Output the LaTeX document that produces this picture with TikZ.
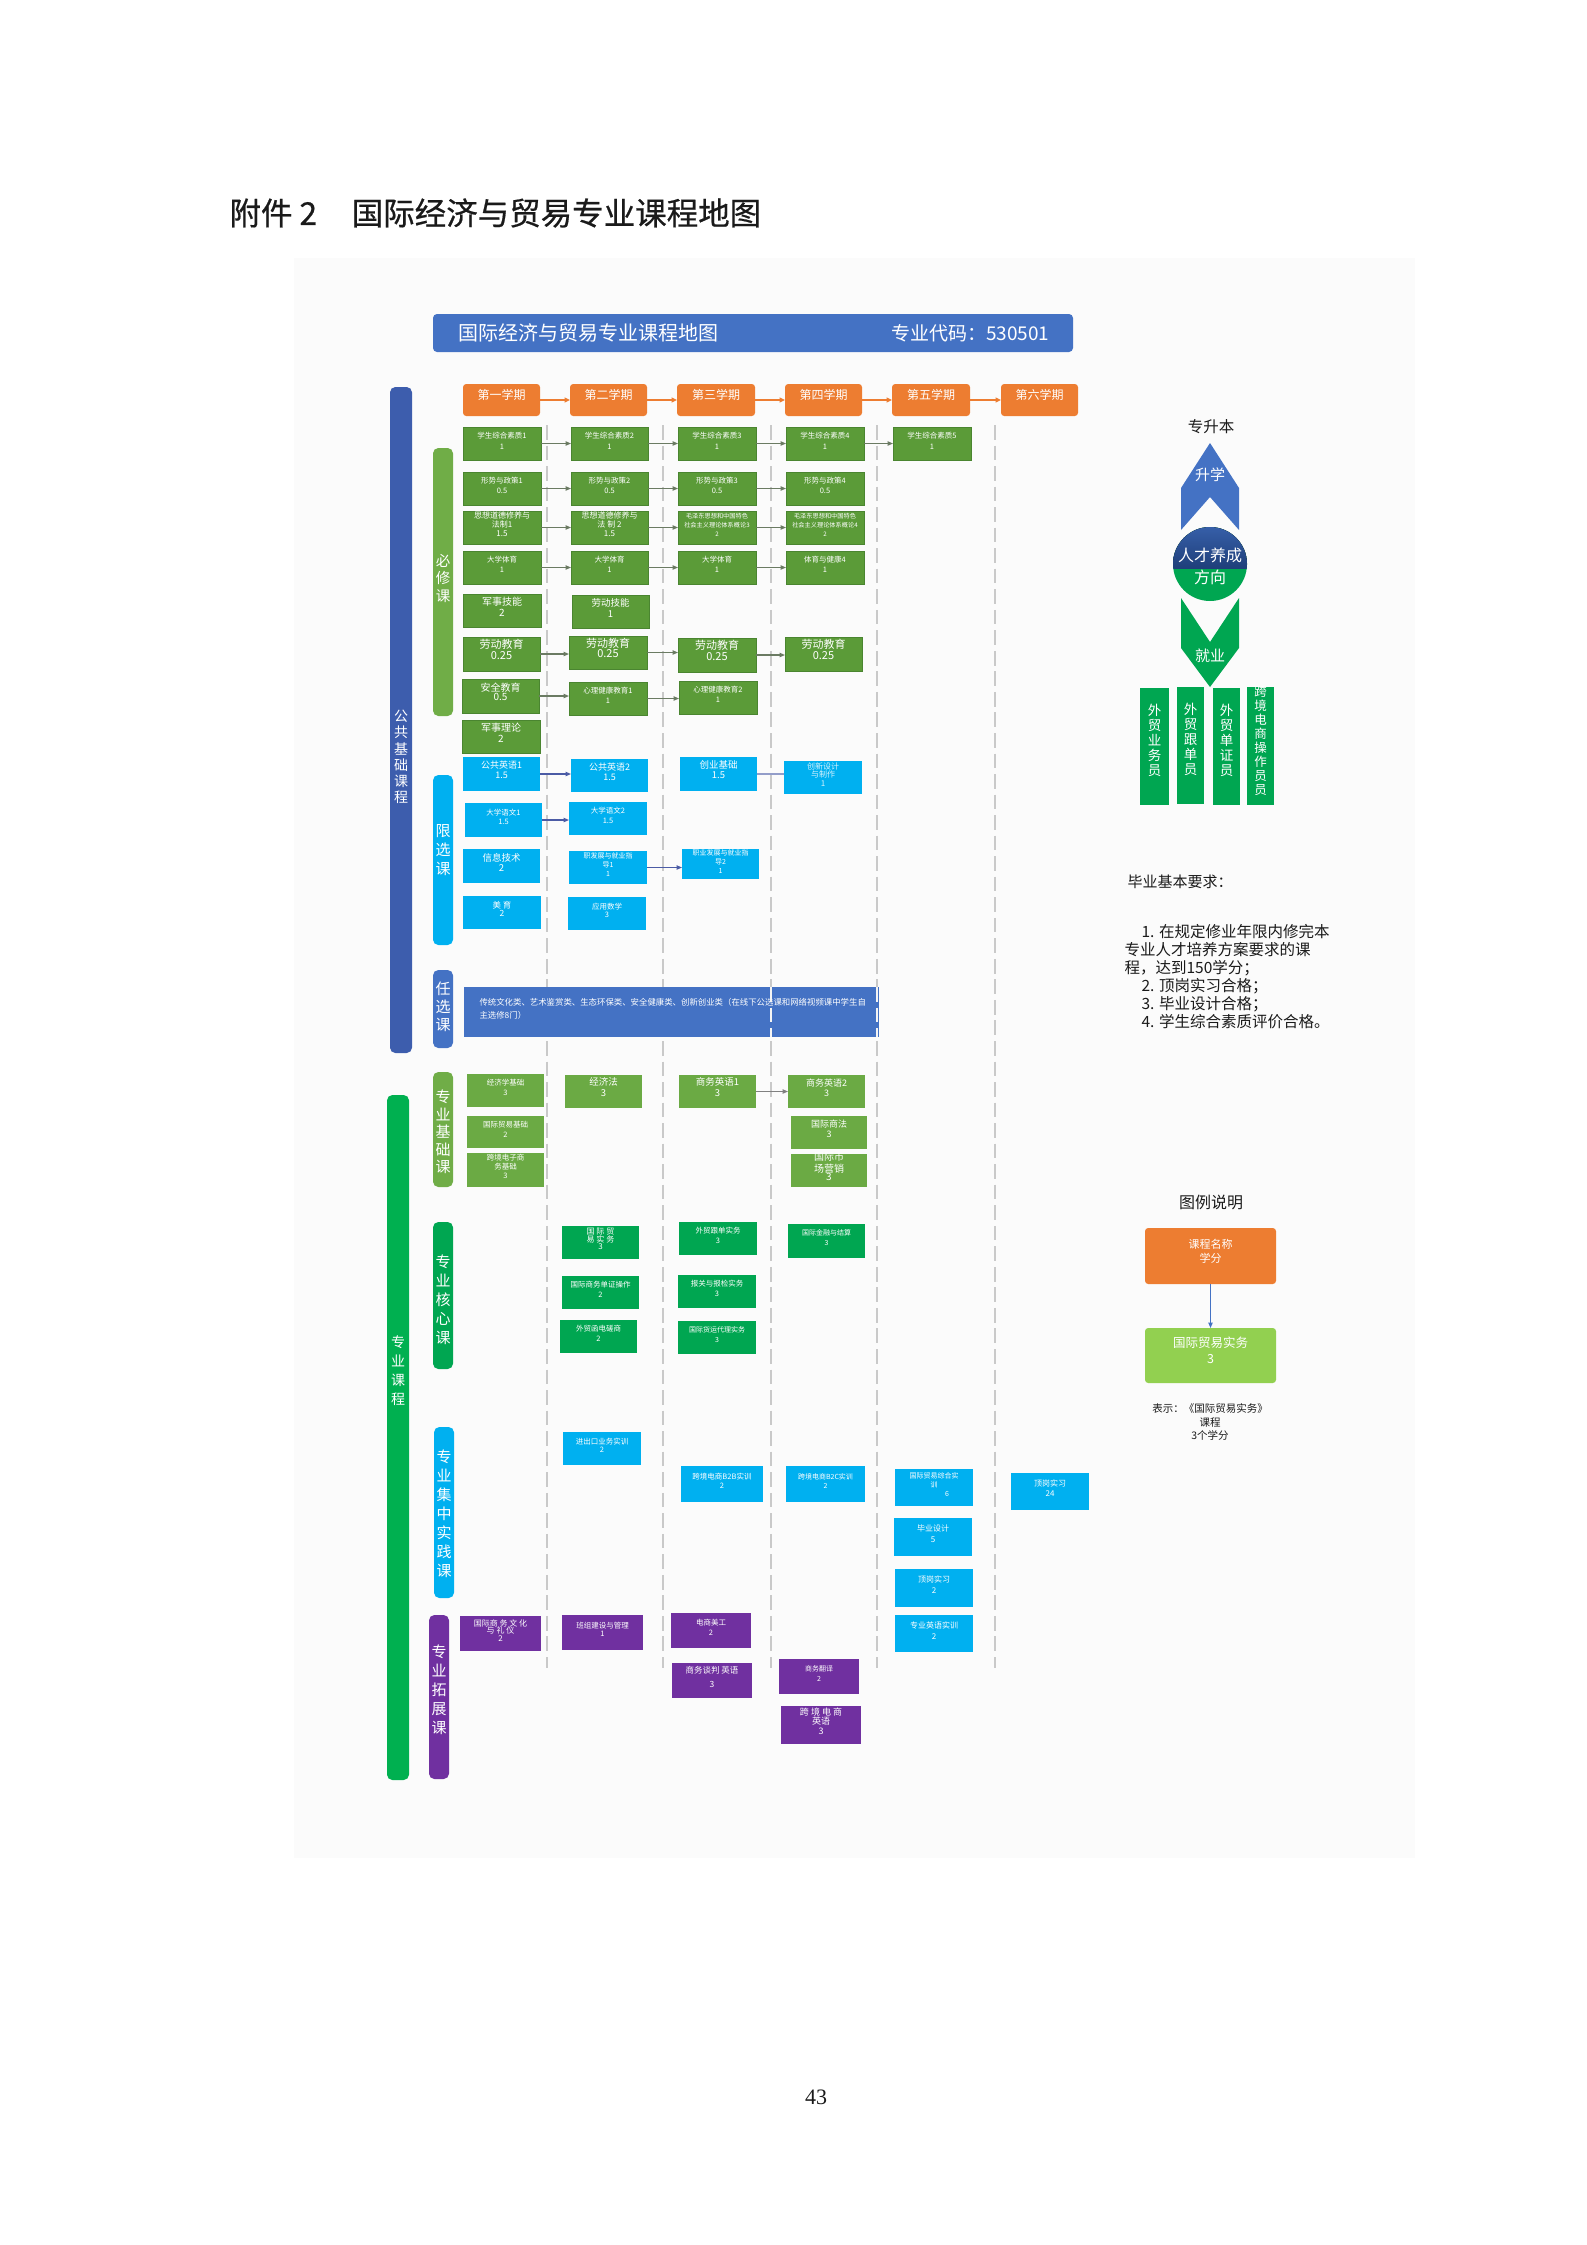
\documentclass[tikz,border=0pt]{standalone}
\usepackage{fontspec}
\setmainfont{Noto Sans CJK SC}
\newfontfamily\serifnum{Liberation Serif}
\newfontfamily\titlefont[FakeBold=0.6]{Noto Sans CJK SC}
\usetikzlibrary{arrows.meta,fit}
\newdimen\pxu \pxu=0.375pt
\newcommand\fs[2]{\fontsize{#1\pxu}{#2\pxu}\selectfont}
\newcommand\bx[7]{\node[#1, fit={(#3,#4)(#5,#6)}] (#2) {#7};}
\definecolor{gB}{HTML}{5B9B38}
\definecolor{gBd}{HTML}{4A8530}
\definecolor{gBar}{HTML}{70AD47}
\definecolor{pB}{HTML}{6BAA44}
\definecolor{kG}{HTML}{00A651}
\definecolor{mBar}{HTML}{00B050}
\definecolor{cy}{HTML}{00B0F0}
\definecolor{pu}{HTML}{7030A0}
\definecolor{pubB}{HTML}{3D5DAD}
\definecolor{hdr}{HTML}{4472C4}
\definecolor{org}{HTML}{ED7D31}
\definecolor{lgG}{HTML}{92D050}
\definecolor{arrG}{HTML}{6B7B63}
\definecolor{arrB}{HTML}{4B5BA5}
\definecolor{dsh}{HTML}{C9C9C9}
\definecolor{panel}{HTML}{FBFBFB}
\definecolor{cTop}{HTML}{3A64B0}
\definecolor{cBot}{HTML}{1F3F7A}
\definecolor{txt}{HTML}{1A1A1A}
\tikzset{
  base/.style={inner sep=0pt, outer sep=0pt, text=white, align=center},
  gb/.style={base, fill=gB, draw=gBd, line width=0.3pt},
  pb/.style={base, fill=pB},
  kb/.style={base, fill=kG},
  cb/.style={base, fill=cy},
  ub/.style={base, fill=pu},
  sem/.style={base, fill=org, rounded corners=1.2pt, font=\fs{12}{14}},
  bar/.style={inner sep=0pt, outer sep=0pt, rounded corners=2pt},
  vlab/.style={text=white, align=center, inner sep=0pt},
  ga/.style={draw=arrG, line width=0.45pt, -{Triangle[length=2pt,width=1.6pt]}},
  ba/.style={draw=arrB, line width=0.45pt, -{Triangle[length=2pt,width=1.6pt]}},
  oa/.style={draw=org, line width=0.6pt, -{Triangle[length=2pt,width=1.8pt]}},
  dl/.style={draw=dsh, line width=0.5pt, dash pattern=on 5.5pt off 2.2pt},
  job/.style={base, fill=kG, font=\fs{13.5}{15}},
}
\begin{document}
\begin{tikzpicture}[x=0.375pt,y=-0.375pt]
\useasboundingbox (0,0) rectangle (1587,2245);
\fill[white] (0,0) rectangle (1587,2245);
\fill[panel] (294,258) rectangle (1415,1858);

% title
\node[anchor=west, inner sep=0pt, font=\titlefont\fs{31.5}{34}, text=txt] (title) at (229,213) {附件 2\hspace{1.1em}国际经济与贸易专业课程地图};

% header
\node[bar, fill=hdr, rounded corners=1.5pt, fit={(433,314)(1073,352)}] (hdr) {};
\node[anchor=west, inner sep=0pt, text=white, font=\fs{20}{22}] (hdrL) at (458,333) {国际经济与贸易专业课程地图};
\node[anchor=east, inner sep=0pt, text=white, font=\fs{19}{22}] (hdrR) at (1050,333) {专业代码：530501};

% dashed separators
\foreach \xx in {547,663,771,877,995} \draw[dl] (\xx,425) -- (\xx,1668);

% left bars
\node[bar, fill=pubB, fit={(390,387)(412,1053)}] (pubbar) {};
\node[vlab, font=\fs{14}{16.3}] (publbl) at (401,757) {公\\共\\基\\础\\课\\程};
\node[bar, fill=mBar, fit={(387,1095)(409,1780)}] (majbar) {};
\node[vlab, font=\fs{14}{19}] (majlbl) at (398,1371) {专\\业\\课\\程};

\node[bar, fill=gBar, fit={(433,448)(453,716)}] (bxbar) {};
\node[vlab, font=\fs{14.5}{17.5}] (bxlbl) at (443,578) {必\\修\\课};
\node[bar, fill=cy, fit={(433,775)(453,945)}] (xxbar) {};
\node[vlab, font=\fs{15}{19}] (xxlbl) at (443,850) {限\\选\\课};
\node[bar, fill=hdr, fit={(433,970)(453,1048)}] (rxbar) {};
\node[vlab, font=\fs{15}{18}] (rxlbl) at (443,1007) {任\\选\\课};
\node[bar, fill=gBar, fit={(433,1072)(453,1187)}] (jcbar) {};
\node[vlab, font=\fs{15}{17.5}] (jclbl) at (443,1132) {专\\业\\基\\础\\课};
\node[bar, fill=kG, fit={(433,1222)(453,1369)}] (hxbar) {};
\node[vlab, font=\fs{15}{19}] (hxlbl) at (443,1300) {专\\业\\核\\心\\课};
\node[bar, fill=cy, fit={(434,1427)(454,1598)}] (sjbar) {};
\node[vlab, font=\fs{15}{19}] (sjlbl) at (444,1514) {专\\业\\集\\中\\实\\践\\课};
\node[bar, fill=pu, fit={(429,1615)(449,1779)}] (tzbar) {};
\node[vlab, font=\fs{15}{19}] (tzlbl) at (439,1690) {专\\业\\拓\\展\\课};

% semesters
\bx{sem}{s1}{463}{384}{540}{416}{第一学期}
\bx{sem}{s2}{570}{384}{647}{416}{第二学期}
\bx{sem}{s3}{677}{384}{755}{416}{第三学期}
\bx{sem}{s4}{785}{384}{862}{416}{第四学期}
\bx{sem}{s5}{892}{384}{970}{416}{第五学期}
\bx{sem}{s6}{1001}{384}{1078}{416}{第六学期}
\draw[oa] (s1.east) -- (s2.west);
\draw[oa] (s2.east) -- (s3.west);
\draw[oa] (s3.east) -- (s4.west);
\draw[oa] (s4.east) -- (s5.west);
\draw[oa] (s5.east) -- (s6.west);

% 必修课
\bx{gb,font=\fs{7.5}{11}}{a11}{463}{427}{541}{460}{学生综合素质1\\1}
\bx{gb,font=\fs{7.5}{11}}{a12}{571}{427}{648}{460}{学生综合素质2\\1}
\bx{gb,font=\fs{7.5}{11}}{a13}{678}{427}{756}{460}{学生综合素质3\\1}
\bx{gb,font=\fs{7.5}{11}}{a14}{786}{427}{864}{460}{学生综合素质4\\1}
\bx{gb,font=\fs{7.5}{11}}{a15}{893}{427}{971}{460}{学生综合素质5\\1}
\bx{gb,font=\fs{7.5}{10.5}}{a21}{463}{472}{541}{505}{形势与政策1\\0.5}
\bx{gb,font=\fs{7.5}{10.5}}{a22}{571}{472}{648}{505}{形势与政策2\\0.5}
\bx{gb,font=\fs{7.5}{10.5}}{a23}{678}{472}{756}{505}{形势与政策3\\0.5}
\bx{gb,font=\fs{7.5}{10.5}}{a24}{786}{472}{864}{505}{形势与政策4\\0.5}
\bx{gb,font=\fs{8}{9}}{a31}{463}{511}{541}{544}{思想道德修养与\\法制1\\1.5}
\bx{gb,font=\fs{8}{9}}{a32}{571}{511}{648}{544}{思想道德修养与\\法 制 2\\1.5}
\bx{gb,font=\fs{6.2}{9}}{a33}{678}{511}{756}{544}{毛泽东思想和中国特色\\社会主义理论体系概论3\\2}
\bx{gb,font=\fs{6.2}{9}}{a34}{786}{511}{864}{544}{毛泽东思想和中国特色\\社会主义理论体系概论4\\2}
\bx{gb,font=\fs{7.5}{10}}{a41}{463}{551}{541}{584}{大学体育\\1}
\bx{gb,font=\fs{7.5}{10}}{a42}{571}{551}{648}{584}{大学体育\\1}
\bx{gb,font=\fs{7.5}{10}}{a43}{678}{551}{756}{584}{大学体育\\1}
\bx{gb,font=\fs{7.5}{10}}{a44}{786}{551}{864}{584}{体育与健康4\\1}
\bx{gb,font=\fs{10}{11}}{a51}{463}{594}{541}{627}{军事技能\\2}
\bx{gb,font=\fs{9.5}{11}}{a52}{572}{595}{649}{628}{劳动技能\\1}
\bx{gb,font=\fs{11}{10.5}, align=left}{a61}{463}{637}{540}{671}{劳动教育\\0.25}
\bx{gb,font=\fs{11}{10.5}, align=left}{a62}{569}{636}{647}{669}{劳动教育\\0.25}
\bx{gb,font=\fs{11}{10.5}, align=left}{a63}{678}{638}{756}{672}{劳动教育\\0.25}
\bx{gb,font=\fs{11}{10.5}, align=left}{a64}{785}{637}{862}{671}{劳动教育\\0.25}
\bx{gb,font=\fs{10}{9}}{a71}{462}{679}{539}{713}{安全教育\\0.5}
\bx{gb,font=\fs{7.5}{10.5}}{a72}{569}{682}{647}{715}{心理健康教育1\\1}
\bx{gb,font=\fs{7.5}{10.5}}{a73}{679}{681}{757}{714}{心理健康教育2\\1}
\bx{gb,font=\fs{10}{11}}{a81}{462}{720}{540}{753}{军事理论\\2}

\foreach \r/\n in {1/5,2/4,3/4,4/4,6/4,7/3}{
  \foreach \c [evaluate=\c as \d using int(\c+1)] in {1,...,\n}{
    \ifnum\c<\n \draw[ga] (a\r\c.east) -- (a\r\c.east -| a\r\d.west);\fi
  }
}

% 限选课
\bx{cb,font=\fs{9}{10}}{b11}{463}{757}{540}{791}{公共英语1\\1.5}
\bx{cb,font=\fs{9}{10}}{b12}{571}{759}{648}{792}{公共英语2\\1.5}
\bx{cb,font=\fs{9.5}{10}}{b13}{680}{757}{757}{791}{创业基础\\1.5}
\bx{cb,font=\fs{8}{8.5},text=white!85!cy}{b14}{784}{761}{862}{794}{创新设计\\与制作\\1}
\bx{cb,font=\fs{7.5}{9.5}}{b21}{465}{803}{542}{837}{大学语文1\\1.5}
\bx{cb,font=\fs{7.5}{9.5}}{b22}{569}{802}{647}{835}{大学语文2\\1.5}
\bx{cb,font=\fs{9.5}{10}}{b31}{463}{849}{540}{883}{信息技术\\2}
\bx{cb,font=\fs{7}{9}}{b32}{569}{851}{647}{884}{职发展与就业指\\导1\\1}
\bx{cb,font=\fs{7}{9}}{b33}{682}{849}{759}{879}{职业发展与就业指\\导2\\1}
\bx{cb,font=\fs{8.5}{8}}{b41}{463}{896}{541}{929}{美 育\\2}
\bx{cb,font=\fs{7.5}{8}}{b42}{568}{897}{646}{930}{应用数学\\3}
\draw[ba] (b11.east) -- (b11.east -| b12.west);
\draw[ba] (b21.east) -- (b21.east -| b22.west);
\draw[ba] (b32.east) -- (b32.east -| b33.west);
\draw[draw=arrB!60, line width=0.45pt] (b13.east) -- (b13.east -| b14.west);

% 任选课
\node[base, fill=hdr, fit={(464,987)(879,1037)}] (rx) {};
\node[anchor=north west, inner sep=0pt, text=white, align=left, font=\fs{8.4}{13}] (rxt) at (479,998) {传统文化类、艺术鉴赏类、生态环保类、安全健康类、创新创业类（在线下公选课和网络视频课中学生自\\主选修8门）};
\draw[dl, draw=white!80!dsh] (771,987) -- (771,1037);
\draw[dl, draw=white!80!dsh] (877,987) -- (877,1037);

% 专业基础课
\bx{pb,font=\fs{7.5}{10}}{c11}{467}{1074}{544}{1107}{经济学基础\\3}
\bx{pb,font=\fs{7.5}{10}}{c21}{467}{1116}{544}{1148}{国际贸易基础\\2}
\bx{pb,font=\fs{7.5}{9}}{c31}{467}{1153}{544}{1187}{跨境电子商\\务基础\\3}
\bx{pb,font=\fs{9.5}{11}}{c12}{565}{1075}{642}{1108}{经济法\\3}
\bx{pb,font=\fs{9.5}{11}}{c13}{679}{1075}{756}{1108}{商务英语1\\3}
\bx{pb,font=\fs{9}{10}}{c14}{788}{1075}{865}{1108}{商务英语2\\3}
\bx{pb,font=\fs{9}{9.5}}{c24}{791}{1116}{867}{1149}{国际商法\\3}
\bx{pb,font=\fs{10}{8.5}}{c34}{791}{1154}{867}{1187}{国际市\\场营销\\3}
\draw[ga, draw=gray] (c13.east) -- (c13.east -| c14.west);

% 专业核心课
\bx{kb,font=\fs{8}{7.5}}{d12}{562}{1226}{639}{1259}{国 际 贸\\易 实 务\\3}
\bx{kb,font=\fs{7.5}{10}}{d22}{562}{1276}{639}{1309}{国际商务单证操作\\2}
\bx{kb,font=\fs{7.5}{10}}{d32}{560}{1320}{637}{1353}{外贸函电磋商\\2}
\bx{kb,font=\fs{7.5}{10}}{d13}{679}{1222}{757}{1255}{外贸跟单实务\\3}
\bx{kb,font=\fs{7.5}{10}}{d23}{678}{1275}{756}{1308}{报关与报检实务\\3}
\bx{kb,font=\fs{7}{10}}{d33}{678}{1321}{756}{1354}{国际货运代理实务\\3}
\bx{kb,font=\fs{7}{10}}{d14}{788}{1224}{865}{1258}{国际金融与结算\\3}

% 专业集中实践课
\bx{cb,font=\fs{7.5}{8.5}}{e12}{563}{1432}{641}{1465}{进出口业务实训\\2}
\bx{cb,font=\fs{7.5}{8.5}}{e13}{681}{1466}{763}{1502}{跨境电商B2B实训\\2}
\bx{cb,font=\fs{7}{8.5}}{e14}{786}{1466}{865}{1502}{跨境电商B2C实训\\2}
\bx{cb,font=\fs{7}{9},align=left}{e15}{895}{1469}{973}{1506}{国际贸易综合实\\训\\\hspace*{26\pxu}6}
\bx{cb,font=\fs{8}{11}}{e25}{894}{1518}{972}{1556}{毕业设计\\5}
\bx{cb,font=\fs{8}{11}}{e35}{895}{1569}{973}{1607}{顶岗实习\\2}
\bx{cb,font=\fs{8}{11}}{e45}{895}{1615}{973}{1652}{专业英语实训\\2}
\bx{cb,font=\fs{8}{10}}{e16}{1011}{1473}{1089}{1510}{顶岗实习\\24}

% 专业拓展课
\bx{ub,font=\fs{8}{7.5}}{f11}{460}{1616}{541}{1651}{国际商 务 文 化\\与 礼 仪\\2}
\bx{ub,font=\fs{7.5}{7.5}}{f12}{562}{1615}{643}{1650}{班组建设与管理\\1}
\bx{ub,font=\fs{7.5}{10}}{f13}{671}{1613}{751}{1648}{电商美工\\2}
\bx{ub,font=\fs{8.5}{14}}{f23}{672}{1663}{752}{1698}{商务谈判 英语\\3}
\bx{ub,font=\fs{7}{10}}{f24}{779}{1659}{859}{1694}{商务翻译\\2}
\bx{ub,font=\fs{9}{9.5}}{f34}{781}{1706}{861}{1744}{跨 境 电 商\\英语\\3}

% right: direction diagram
\node[font=\fs{15.5}{17}, text=txt, inner sep=0pt] (zsb) at (1211,427) {专升本};
\fill[hdr] (1210,443) -- (1239,488) -- (1239,530) -- (1210,497) -- (1181,530) -- (1181,488) -- cycle;
\node[text=white, font=\fs{15}{17}, inner sep=0pt] (sx) at (1210,475) {升学};
\fill[kG] (1181,598) -- (1210,642) -- (1239,598) -- (1239,648) -- (1210,687) -- (1181,648) -- cycle;
\node[text=white, font=\fs{15}{17}, inner sep=0pt] (jy) at (1210,656) {就业};
\fill[kG] (1210,564) circle[radius=13.875pt];
\begin{scope}
  \clip (1210,564) circle[radius=13.875pt];
  \fill[top color=cTop, bottom color=cBot] (1170,520) rectangle (1250,568);
\end{scope}
\node[text=white, font=\fs{16}{18}, inner sep=0pt] (rc) at (1210,555) {人才养成};
\node[text=white, font=\fs{16}{18}, inner sep=0pt] (fx) at (1210,577) {方向};
\bx{job}{j1}{1140}{688}{1169}{805}{外\\贸\\业\\务\\员}
\bx{job}{j2}{1177}{687}{1204}{804}{外\\贸\\跟\\单\\员}
\bx{job}{j3}{1213}{688}{1240}{805}{外\\贸\\单\\证\\员}
\bx{job,font=\fs{12.5}{14}}{j4}{1247}{687}{1274}{805}{跨\\境\\电\\商\\操\\作\\员\\员}

% graduation requirements
\node[anchor=west, inner sep=0pt, font=\fs{15}{18}, text=txt] (byyq) at (1127,882) {毕业基本要求：};
\node[anchor=north west, inner sep=0pt, align=left, font=\fs{15.5}{18}, text=txt] (yqt) at (1124,924) {\hspace*{17\pxu}1. 在规定修业年限内修完本\\专业人才培养方案要求的课\\程，达到150学分；\\\hspace*{17\pxu}2. 顶岗实习合格；\\\hspace*{17\pxu}3. 毕业设计合格；\\\hspace*{17\pxu}4. 学生综合素质评价合格。};

% legend
\node[font=\fs{16}{18}, text=txt, inner sep=0pt] (lgt) at (1211,1202) {图例说明};
\bx{base,fill=org,rounded corners=1.2pt,font=\fs{11}{14}}{lg1}{1145}{1228}{1276}{1284}{课程名称\\学分}
\bx{base,fill=lgG,rounded corners=1.2pt,font=\fs{12.5}{16}}{lg2}{1145}{1328}{1276}{1383}{国际贸易实务\\3}
\draw[draw=hdr, line width=0.45pt, -{Triangle[length=2pt,width=1.6pt]}] (lg1) -- (lg2);
\node[align=center, font=\fs{10.5}{13.5}, text=txt, inner sep=0pt] (lgc) at (1210,1422) {表示：《国际贸易实务》\\课程\\3个学分};

% page number
\node[font=\serifnum\fs{22}{24}, text=txt, inner sep=0pt] (pg) at (816,2097) {43};
\end{tikzpicture}
\end{document}
